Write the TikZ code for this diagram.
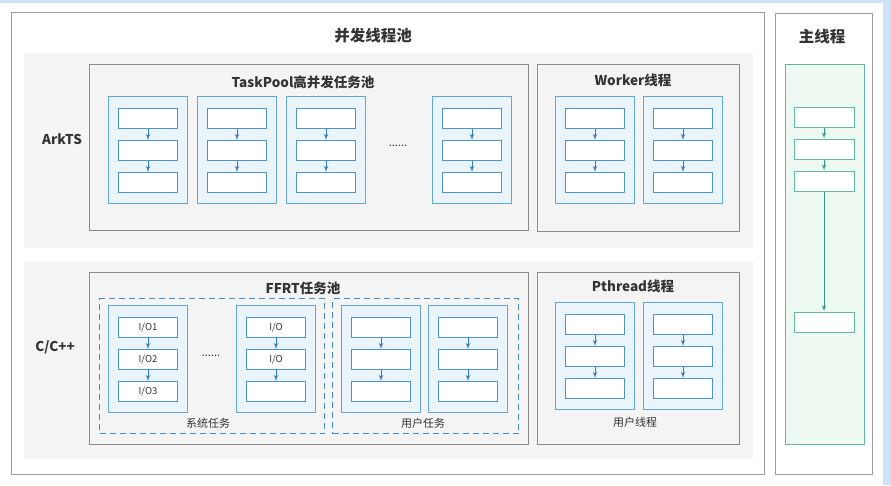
\documentclass[tikz,border=0pt]{standalone}
\usepackage{fontspec}
\setmainfont{Noto Sans CJK SC}
\usepackage{tikz}
\usetikzlibrary{shapes,arrows,positioning,calc}
\usepackage{xcolor}

\definecolor{edgeBlue}{HTML}{CFE3F7}
\definecolor{frameGray}{HTML}{9C9C9C}
\definecolor{bandGray}{HTML}{F5F5F5}
\definecolor{poolGray}{HTML}{8A8A8A}
\definecolor{poolFill}{HTML}{F4F4F4}
\definecolor{colBlue}{HTML}{62A6D8}
\definecolor{colFill}{HTML}{E9F4FB}
\definecolor{taskBlue}{HTML}{4D94CC}
\definecolor{arrowBlue}{HTML}{2F7CC2}
\definecolor{dashBlue}{HTML}{3F8ACA}
\definecolor{mainGreen}{HTML}{5DBBA3}
\definecolor{mainFill}{HTML}{EEF9F2}
\definecolor{arrowGreen}{HTML}{2E9C89}
\definecolor{textGray}{HTML}{333333}

\begin{document}
\begin{tikzpicture}[x=1pt, y=-1pt, node distance=32pt]
\tikzstyle{frame} = [rectangle, draw=frameGray, line width=0.9pt, anchor=north west, inner sep=0pt]
\tikzstyle{band} = [rectangle, fill=bandGray, anchor=north west, inner sep=0pt]
\tikzstyle{pool} = [rectangle, draw=poolGray, fill=poolFill, line width=0.9pt, anchor=north west, inner sep=0pt]
\tikzstyle{group} = [rectangle, draw=dashBlue, line width=1.4pt, dash pattern=on 6pt off 4pt, anchor=north west, inner sep=0pt]
\tikzstyle{thread} = [rectangle, draw=colBlue, fill=colFill, line width=1pt, anchor=north west, minimum width=79pt, minimum height=107pt, inner sep=0pt]
\tikzstyle{task} = [rectangle, draw=taskBlue, fill=white, line width=1pt, minimum width=59pt, minimum height=20pt, inner sep=0pt, text=textGray, font=\fontsize{9.5}{10}\selectfont]
\tikzstyle{gtask} = [task, draw=mainGreen, minimum width=60pt]
\tikzstyle{line} = [draw=arrowBlue, line width=1pt, -latex']
\tikzstyle{gline} = [draw=arrowGreen, line width=1pt, -latex']
\tikzstyle{title} = [text=textGray, font=\fontsize{13.5}{15}\selectfont\bfseries]
\tikzstyle{bigtitle} = [text=textGray, font=\fontsize{15.5}{17}\selectfont\bfseries]
\tikzstyle{caption} = [text=textGray, font=\fontsize{11}{12}\selectfont]

% canvas
\fill[white] (0,0) rectangle (891,485);
\fill[edgeBlue] (0,0) rectangle (891,3);
\fill[edgeBlue] (883,0) rectangle (891,485);
\useasboundingbox (0,0) rectangle (891,485);

% concurrent thread pool
\node [frame, minimum width=753pt, minimum height=462pt] (pool) at (11,12) {};
\node [bigtitle] (pooltitle) at (373,36) {并发线程池};
\node [band, minimum width=729pt, minimum height=195pt] (arkband) at (24,53) {};
\node [band, minimum width=729pt, minimum height=197pt] (cband) at (24,262) {};
\node [title] (arkts) at (62,139) {ArkTS};
\node [title] (cpp) at (55,347) {C/C++};

\node [pool, minimum width=439pt, minimum height=166pt] (taskpool) at (89,64) {};
\node [title] (tptitle) at (303,82) {TaskPool高并发任务池};
\node [pool, minimum width=202pt, minimum height=167pt] (worker) at (537,64) {};
\node [title] (wktitle) at (633,80) {Worker线程};
\node [pool, minimum width=439pt, minimum height=172pt] (ffrt) at (89,272) {};
\node [title] (fftitle) at (303,288) {FFRT任务池};
\node [pool, minimum width=202pt, minimum height=172pt] (pthread) at (537,272) {};
\node [title] (pttitle) at (633,286) {Pthread线程};

\node [group, minimum width=225pt, minimum height=135pt] (sysgroup) at (99,298) {};
\node [group, minimum width=186pt, minimum height=135pt] (usergroup) at (332,298) {};

% plain thread columns
\foreach \c/\x/\y in {tp1/108/96, tp2/197/96, tp3/286/96, tp4/432/96, wk1/555/96, wk2/643/96, us1/341/305, us2/428/305, pt1/555/302, pt2/643/302} {
  \node [thread] (\c) at (\x,\y) {};
  \node [task, below=12pt of \c.north] (\c-1) {};
  \node [task, below of=\c-1] (\c-2) {};
  \node [task, below of=\c-2] (\c-3) {};
  \path [line] (\c-1) -- (\c-2);
  \path [line] (\c-2) -- (\c-3);
}

% system tasks
\node [thread] (sy1) at (108,305) {};
\node [task, below=12pt of sy1.north] (sy1-1) {I/O1};
\node [task, below of=sy1-1] (sy1-2) {I/O2};
\node [task, below of=sy1-2] (sy1-3) {I/O3};
\node [thread] (sy2) at (236,305) {};
\node [task, below=12pt of sy2.north] (sy2-1) {I/O};
\node [task, below of=sy2-1] (sy2-2) {I/O};
\node [task, below of=sy2-2] (sy2-3) {};
\path [line] (sy1-1) -- (sy1-2);
\path [line] (sy1-2) -- (sy1-3);
\path [line] (sy2-1) -- (sy2-2);
\path [line] (sy2-2) -- (sy2-3);

\node [caption] (tpdots) at (398,146) {......};
\node [caption] (sydots) at (211,356) {......};
\node [caption] (systext) at (208,423) {系统任务};
\node [caption] (usertext) at (423,423) {用户任务};
\node [caption] (pttext) at (635,422) {用户线程};

% main thread
\node [frame, minimum width=97pt, minimum height=461pt] (main) at (775,13) {};
\node [bigtitle] (maintitle) at (822,37) {主线程};
\node [thread, draw=mainGreen, fill=mainFill, minimum height=380pt] (mainlane) at (785,64) {};
\node [gtask] (g1) at (824,117) {};
\node [gtask, below of=g1] (g2) {};
\node [gtask, below of=g2] (g3) {};
\node [gtask] (g4) at (824,322) {};
\path [gline] (g1) -- (g2);
\path [gline] (g2) -- (g3);
\path [gline] (g3) -- (g4);

\end{tikzpicture}
\end{document}
